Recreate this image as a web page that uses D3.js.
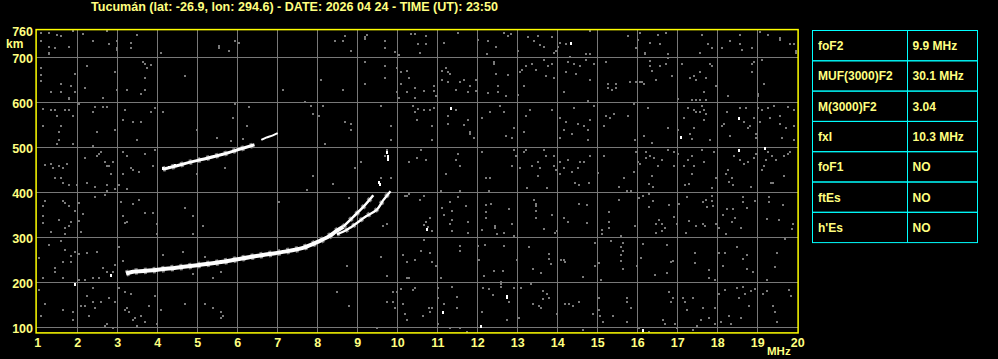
<!DOCTYPE html>
<html>
<head>
<meta charset="utf-8">
<script src="https://cdn.jsdelivr.net/npm/d3@7"></script>
<style>
  html, body { margin: 0; padding: 0; background: #000; }
  svg { display: block; }
  text { font-family: "Liberation Sans", Arial, sans-serif; font-weight: bold; fill: #ffff80; }
</style>
</head>
<body>
<div id="chart"></div>
<script>
// Data
const title = "Tucumán (lat: -26.9, lon: 294.6) - DATE: 2026 04 24 - TIME (UT): 23:50";
const freqTicks = [1, 2, 3, 4, 5, 6, 7, 8, 9, 10, 11, 12, 13, 14, 15, 16, 17, 18, 19, 20];
const heightTicks = [100, 200, 300, 400, 500, 600, 700, 760];
const paramNames = ["foF2", "MUF(3000)F2", "M(3000)F2", "fxI", "foF1", "ftEs", "h'Es"];
const paramValues = ["9.9 MHz", "30.1 MHz", "3.04", "10.3 MHz", "NO", "NO", "NO"];

// echo traces [MHz, km]
const traceF = [[3.22, 220], [3.39, 224], [3.89, 227], [4.47, 233], [5.05, 239], [5.64, 246], [6.14, 254],
  [6.64, 261], [7.14, 268], [7.64, 277], [8.05, 292], [8.30, 303], [8.47, 314], [8.65, 324]];
const traceO = [[8.65, 324], [8.9, 346], [9.15, 368], [9.4, 394]];
const traceX = [[8.49, 307], [8.72, 316], [8.86, 324], [9.22, 347], [9.49, 362], [9.65, 383], [9.83, 403]];
const trace2F = [[4.14, 452], [4.47, 459], [4.8, 467], [5.14, 474], [5.64, 485], [6.05, 496], [6.43, 506]];
const trace2Fweak = [[6.6, 517], [6.72, 522], [6.89, 527], [7.01, 532]];
const strongDots = [[9.555, 423], [9.57, 418], [9.78, 474], [9.76, 482], [9.74, 490], [14.34, 732], [11.34, 588],
  [17.09, 524], [18.54, 566], [18.54, 495], [19.19, 499], [10.74, 319], [11.14, 134], [12.09, 104], [12.74, 171],
  [12.74, 167], [16.14, 94], [1.94, 196], [2.84, 217], [4.13, 454], [4.3, 457], [4.45, 461]];

const noise = [
  [1.09,754],[1.29,754],[1.49,750],[1.59,747],[1.89,759],[2.14,753],[2.74,759],[3.49,750],[1.09,736],[1.29,724],
  [1.44,720],[1.79,724],[1.29,707],[1.29,711],[2.39,736],[2.79,729],[2.99,736],[2.99,717],[2.99,721],[3.34,732],[3.34,720],
  [4.09,710],[5.54,722],[5.54,726],[5.79,714],[5.94,736],[6.04,732],[8.44,736],[8.64,736],[8.69,747],[8.84,714],
  [9.19,745],[9.19,741],[9.24,750],[9.69,736],[9.69,722],[9.94,713],[10.04,705],[10.34,753],[10.44,753],
  [1.09,676],[1.09,661],[1.09,647],[3.64,690],[3.69,686],[3.84,684],[3.74,677],[2.24,681],[2.94,668],[1.94,664],
  [1.59,641],[1.84,637],[1.34,624],[1.59,624],[1.94,624],[2.19,633],[1.79,607],[1.79,611],[2.64,610],[2.99,628],
  [3.24,628],[3.59,618],[3.69,628],[3.69,655],[4.69,659],[7.14,628],[8.09,650],[8.64,628],[9.19,690],[9.19,641],
  [9.69,681],[9.69,655],[9.99,677],[10.09,668],[10.24,671],[10.29,655],[10.09,641],[10.24,624],[9.99,624],
  [10.44,633],[10.44,610],[10.04,610],[2.04,597],
  [1.14,585],[1.34,584],[1.44,584],[1.69,584],[1.79,584],[1.49,570],[1.89,569],[2.44,591],[2.64,591],[2.74,591],
  [3.19,584],[3.94,588],[4.14,579],[2.39,579],[1.14,548],[1.59,548],[1.54,535],[1.54,517],[1.49,508],[1.89,508],
  [2.49,535],[2.94,539],[3.14,561],[3.39,557],[3.59,557],[3.49,517],[3.84,579],[4.99,539],[5.94,596],[6.29,591],
  [5.89,566],[6.24,548],[5.49,521],[5.84,514],[6.14,518],[7.69,601],[7.84,593],[7.89,575],[8.04,570],[8.14,593],
  [8.69,557],[8.84,553],[8.84,539],[9.59,593],[9.84,548],[9.84,517],[10.44,579],[10.39,593],[10.49,561],[8.19,508],
  [1.19,461],[1.34,464],[1.39,455],[1.54,459],[1.64,455],[1.74,464],[1.44,433],[1.59,433],[2.19,477],[2.39,504],
  [2.49,481],[2.54,486],[2.59,490],[2.69,468],[2.74,458],[2.79,459],[2.89,468],[2.84,441],[3.14,490],[3.24,481],
  [3.34,455],[3.39,450],[3.54,446],[3.69,486],[3.89,459],[3.94,495],[3.14,441],[4.99,441],[5.69,455],[7.89,437],
  [8.94,455],[9.09,468],[9.59,433],[9.69,481],[9.74,495],[9.84,433],[10.29,468],[10.49,477],
  [10.71,747],[10.51,730],[10.56,711],[10.71,730],[11.16,733],[11.51,754],[12.01,739],[12.26,736],[12.46,724],
  [12.24,707],[12.66,754],[12.84,753],[12.76,748],[13.01,714],[13.26,745],[13.41,736],[13.51,747],[13.56,727],
  [13.66,724],[13.86,745],[13.91,711],[13.96,714],[14.06,733],[14.01,724],[14.82,759],[14.71,707],[14.82,707],
  [14.31,702],[14.21,729],[15.76,747],[15.96,720],[16.01,738],[16.06,754],[16.19,707],[16.19,711],[16.31,733],
  [16.51,751],[16.56,729],[16.71,754],[16.76,707],[17.56,710],[17.61,751],[17.76,729],[17.86,720],[18.11,720],
  [18.31,736],[18.56,751],[18.56,729],[18.61,717],[18.86,720],[19.06,756],[19.26,751],[19.56,739],[19.56,743],
  [19.81,729],[19.91,729],[19.96,711],[19.96,715],
  [10.66,625],[10.91,625],[10.91,637],[10.96,615],[11.11,671],[11.11,650],[11.21,676],[11.26,668],[11.31,664],
  [11.26,646],[11.46,628],[11.56,646],[11.66,650],[11.76,624],[11.81,637],[11.96,625],[11.96,650],[12.26,622],
  [12.41,686],[12.41,690],[12.46,664],[12.51,637],[12.51,624],[12.71,615],[12.76,661],[13.01,616],[13.06,667],
  [13.11,673],[13.16,637],[13.21,681],[13.36,686],[13.46,673],[13.66,695],[13.71,659],[13.76,681],[13.86,686],
  [13.91,655],[14.16,624],[14.21,668],[14.26,689],[14.41,686],[14.46,664],[14.56,681],[14.71,695],[14.77,604],
  [14.82,650],[14.91,686],[15.21,690],[15.26,641],[15.26,633],[15.36,627],[15.46,633],[15.46,641],[15.81,646],
  [15.96,646],[16.06,646],[16.11,646],[16.16,641],[16.31,692],[16.31,681],[16.36,670],[16.46,650],[16.56,681],
  [16.71,686],[16.76,698],[16.86,659],[17.01,607],[17.11,686],[17.31,655],[17.41,659],[17.46,650],[17.56,668],
  [17.66,624],[17.71,655],[17.81,686],[17.86,681],[17.96,637],[17.36,606],[17.46,606],[17.56,606],[17.71,606],
  [18.26,615],[18.86,686],[18.91,690],[18.86,668],[19.11,695],[19.16,641],[19.01,615],[19.01,619],
  [10.51,585],[10.66,584],[10.81,584],[10.92,588],[10.86,548],[10.86,517],[11.26,570],[11.26,553],[11.46,584],
  [11.66,550],[11.76,561],[11.81,530],[11.81,534],[11.91,521],[12.11,566],[12.31,579],[12.56,593],[12.67,579],
  [12.71,526],[12.86,521],[12.91,544],[13.16,535],[13.21,570],[13.31,584],[13.86,584],[14.06,566],[14.16,539],
  [14.06,521],[14.21,557],[14.36,530],[14.41,588],[14.51,553],[14.66,548],[14.76,539],[14.81,561],[14.76,517],
  [14.91,593],[15.21,570],[15.16,548],[15.41,575],[15.31,566],[15.76,570],[15.91,597],[15.94,517],[16.26,588],
  [16.16,526],[16.36,511],[16.76,544],[17.01,539],[17.16,566],[17.26,588],[17.31,530],[17.36,518],[17.41,584],
  [17.46,579],[17.56,579],[17.61,593],[17.66,584],[17.71,575],[17.66,561],[17.41,544],[17.81,517],[18.11,548],
  [18.16,553],[18.24,579],[18.31,526],[18.56,588],[18.66,557],[18.71,588],[18.81,548],[18.76,544],[18.91,566],
  [19.01,588],[18.96,530],[18.96,521],[19.06,556],[19.11,584],[19.26,588],[19.31,566],[19.41,593],[19.56,570],
  [19.56,553],[19.61,521],[19.71,544],[19.76,591],[19.91,584],[19.91,548],[19.91,517],
  [10.59,495],[10.71,473],[11.21,441],[11.46,473],[11.56,459],[11.51,486],[12.11,490],[12.21,433],[12.31,433],
  [12.86,459],[12.91,495],[12.96,481],[13.06,455],[13.16,490],[13.21,495],[13.36,459],[13.51,437],[13.56,455],
  [13.51,468],[13.66,495],[13.71,481],[13.91,481],[13.91,459],[13.96,450],[14.06,468],[14.06,441],[14.16,455],
  [14.26,473],[14.36,446],[14.51,455],[14.56,468],[14.66,468],[14.81,481],[15.01,444],[15.16,481],[15.66,433],
  [15.91,446],[15.96,490],[16.01,468],[16.06,464],[16.21,490],[16.21,477],[16.41,477],[16.31,481],[16.36,437],
  [16.51,459],[16.61,473],[16.76,495],[16.91,459],[16.91,490],[17.01,486],[17.16,459],[17.26,473],[17.36,481],
  [17.36,441],[17.41,459],[17.61,495],[17.66,468],[17.91,490],[17.96,433],[18.21,441],[18.26,450],[18.36,433],
  [18.41,481],[18.56,473],[18.66,464],[18.76,468],[18.91,477],[18.96,486],[19.11,450],[19.16,459],[19.26,490],
  [19.21,473],[19.36,481],[19.46,473],[19.66,437],[19.76,486],[19.81,490],[19.66,481],
  [1.64,421],[1.79,417],[1.99,417],[2.24,421],[2.44,412],[2.74,417],[2.94,408],[3.04,417],[3.24,408],[8.39,420],
  [10.19,392],[10.29,396],[1.14,369],[1.19,380],[1.64,381],[1.69,377],[1.79,371],[1.94,360],[2.04,377],[1.84,335],
  [1.79,325],[1.69,322],[1.54,338],[1.14,347],[1.14,332],[1.34,313],[1.69,307],[2.04,337],[2.09,313],[2.14,352],
  [2.44,389],[2.69,395],[2.74,403],[3.09,378],[3.14,347],[3.19,332],[3.24,335],[3.39,375],[3.54,383],[3.69,354],
  [3.89,354],[3.99,329],[3.99,307],[4.69,365],[4.89,347],[4.89,307],[5.14,325],[7.04,378],[7.74,405],[8.79,387],
  [9.64,325],[9.74,329],[10.24,392],
  [1.29,283],[1.59,292],[1.69,273],[1.84,246],[1.84,258],[1.94,268],[2.04,264],[2.24,266],[2.49,267],[2.64,233],
  [2.89,223],[3.04,279],[3.14,248],[2.94,239],[2.74,224],[2.54,211],[2.39,211],[1.64,245],[1.64,211],[1.44,233],
  [1.44,224],[1.14,211],[1.04,255],[2.04,206],[2.19,205],[4.14,261],[4.64,267],[5.19,257],[4.89,220],[5.39,209],
  [5.59,224],[8.74,236],[9.59,257],[9.74,215],[10.14,261],[10.24,245],[10.44,249],[10.24,211],
  [1.04,184],[1.19,153],[1.09,126],[1.64,140],[1.89,135],[1.89,117],[2.09,148],[2.19,148],[2.24,171],[2.29,126],
  [2.39,157],[2.44,144],[2.39,188],[2.59,157],[2.69,104],[2.74,108],[2.79,166],[2.94,157],[2.89,100],[3.04,188],
  [3.19,180],[3.19,140],[3.24,144],[3.29,135],[3.39,117],[3.44,122],[3.49,104],[3.34,175],[3.59,126],[3.69,113],
  [3.79,148],[3.94,171],[3.99,108],[4.09,140],[4.69,153],[5.19,153],[5.39,144],[5.59,135],[5.64,126],[5.59,122],
  [8.49,180],[8.79,148],[9.74,157],[9.89,180],[9.89,157],[9.94,144],[9.99,180],[10.09,185],[10.14,153],[10.19,131],
  [10.24,117],[10.39,184],[10.44,188],[10.29,211],[9.49,100],
  [11.09,403],[11.57,403],[12.29,403],[13.24,409],[13.74,409],[14.44,421],[14.54,417],[14.79,421],[15.54,412],
  [15.74,403],[15.84,403],[16.29,420],[16.39,412],[17.19,417],[17.29,420],[17.86,409],[18.29,424],[18.39,417],
  [18.84,412],[19.34,421],[19.39,421],
  [10.56,383],[10.66,393],[10.81,343],[10.71,335],[10.66,328],[10.76,323],[10.86,314],[11.11,366],[11.16,349],
  [11.31,378],[11.36,360],[11.36,340],[11.31,329],[11.36,314],[11.51,389],[11.71,369],[11.76,309],[11.76,335],
  [12.11,317],[12.21,372],[12.21,356],[12.21,344],[12.34,375],[12.44,322],[12.44,326],[12.49,307],[12.66,309],
  [12.79,363],[12.86,331],[12.91,304],[13.41,383],[13.46,375],[13.46,371],[13.46,359],[13.46,344],[13.66,320],
  [13.86,349],[13.94,310],[13.99,314],[14.16,343],[14.26,334],[14.54,375],[14.74,372],[14.74,332],[15.11,317],
  [15.11,307],[15.29,357],[15.29,335],[15.29,322],[15.54,384],[15.59,304],[15.94,326],[16.04,387],[16.14,392],
  [16.29,396],[16.29,368],[16.39,380],[16.46,329],[16.54,340],[16.61,331],[16.69,322],[16.79,372],[16.46,310],
  [16.61,314],[16.91,346],[17.04,375],[17.24,390],[17.29,337],[17.46,326],[17.64,378],[17.71,383],[17.74,368],
  [17.86,392],[17.86,380],[17.89,369],[17.64,331],[17.69,326],[17.96,331],[18.04,322],[18.14,349],[18.24,363],
  [18.36,335],[18.39,363],[18.44,344],[18.59,322],[18.64,390],[18.64,378],[18.74,366],[18.94,381],[19.24,341],
  [19.29,378],[19.29,390],[19.54,338],[19.64,372],[19.89,331],[19.86,319],[18.21,307],[17.21,311],[16.99,331],
  [10.66,294],[10.59,270],[10.81,266],[10.86,246],[10.96,237],[11.09,211],[11.56,282],[11.56,270],[12.02,282],
  [12.04,251],[12.16,215],[12.19,283],[12.41,226],[12.67,282],[12.64,226],[12.99,251],[13.29,279],[13.39,230],
  [13.59,221],[13.79,264],[13.79,252],[13.84,242],[14.16,251],[14.09,251],[14.19,245],[14.64,212],[14.94,288],
  [14.94,237],[15.04,243],[15.09,205],[15.34,292],[15.59,279],[15.64,269],[15.59,261],[15.64,288],[15.59,248],
  [15.64,230],[15.99,237],[16.09,255],[16.14,286],[16.44,217],[16.74,283],[16.74,221],[16.84,246],[16.89,248],
  [17.44,266],[17.44,243],[17.79,228],[17.79,211],[17.94,206],[18.04,266],[18.14,237],[18.19,266],[18.49,279],
  [18.64,252],[18.74,261],[18.74,230],[18.89,224],[19.24,205],[19.44,234],[19.49,266],[19.69,297],
  [10.79,144],[10.86,144],[10.64,126],[10.81,135],[11.01,165],[11.01,188],[11.01,108],[11.16,153],[11.31,100],
  [11.36,190],[11.49,168],[11.49,144],[11.56,100],[11.74,91],[12.11,135],[12.14,188],[12.29,185],[12.39,172],
  [12.59,202],[12.59,197],[12.59,191],[12.74,117],[12.79,157],[12.91,188],[13.04,122],[13.09,187],[13.34,196],
  [13.39,153],[13.54,148],[13.59,144],[13.64,181],[13.74,175],[13.64,163],[13.79,165],[13.99,131],[14.19,153],
  [14.29,153],[14.39,148],[14.54,157],[14.64,95],[14.89,131],[15.04,166],[15.04,140],[15.07,126],[15.14,113],
  [15.39,126],[15.74,166],[15.74,157],[15.74,113],[15.84,144],[16.04,100],[16.29,91],[16.64,117],[16.69,108],
  [16.79,180],[16.84,157],[16.89,166],[16.94,108],[16.99,100],[17.14,166],[17.19,157],[17.24,140],[17.39,165],
  [17.39,95],[17.49,104],[17.59,117],[17.64,144],[17.79,122],[17.94,144],[17.94,108],[18.04,175],[18.09,113],
  [18.19,184],[18.29,126],[18.34,108],[18.49,188],[18.54,166],[18.59,122],[18.64,191],[18.69,175],[18.79,148],
  [18.84,181],[18.94,185],[19.24,181],[19.39,148],[19.44,135],[19.49,113],[19.79,184],[19.84,171],[19.14,175]
];

// Layout
const w = 998, h = 359;
const plot = { f0: 0.97, f1: 20.02, h0: 88, h1: 762 };

// Scales
const xScale = d3.scaleLinear().domain([1, 20]).range([37.3, 797.3]);
const yScale = d3.scaleLinear().domain([100, 760]).range([327.5, 30.5]);
const px = v => Math.floor(v) + 0.5;

const svg = d3.select("#chart").append("svg")
  .attr("width", w)
  .attr("height", h);

svg.append("rect").attr("width", w).attr("height", h).attr("fill", "#000");

// Title
svg.append("text")
  .attr("x", 91)
  .attr("y", 11)
  .attr("textLength", 407)
  .attr("lengthAdjust", "spacingAndGlyphs")
  .style("font-size", "12px")
  .text(title);

// Grid
const grid = svg.append("g").attr("stroke", "#787878").attr("stroke-width", 1).attr("shape-rendering", "crispEdges");
grid.selectAll(".vg")
  .data(freqTicks.filter(d => d > 1 && d < 20))
  .enter().append("line")
  .attr("x1", d => px(xScale(d))).attr("x2", d => px(xScale(d)))
  .attr("y1", yScale(plot.h1)).attr("y2", yScale(plot.h0));
grid.selectAll(".hg")
  .data(heightTicks.filter(d => d < 760))
  .enter().append("line")
  .attr("y1", d => px(yScale(d))).attr("y2", d => px(yScale(d)))
  .attr("x1", xScale(plot.f0)).attr("x2", xScale(plot.f1));

// Noise speckle
svg.append("g").attr("fill", "#7a7a7a").attr("shape-rendering", "crispEdges")
  .selectAll("rect")
  .data(noise)
  .enter().append("rect")
  .attr("x", d => Math.round(xScale(d[0])) - 1)
  .attr("y", d => Math.round(yScale(d[1])) - 1)
  .attr("width", 2)
  .attr("height", 2);

// Echo traces
const line = d3.line()
  .x(d => xScale(d[0]))
  .y(d => yScale(d[1]))
  .curve(d3.curveCatmullRom);

const traces = [
  { data: traceF, width: 4.0 },
  { data: traceO, width: 2.6 },
  { data: traceX, width: 2.4 },
  { data: trace2F, width: 3.0 },
  { data: trace2Fweak, width: 2.0 }
];
// grey fringe round the echoes
svg.append("g").selectAll("path")
  .data(traces.slice(0, 4))
  .enter().append("path")
  .attr("d", d => line(d.data))
  .attr("fill", "none")
  .attr("stroke", "#7a7a7a")
  .attr("stroke-width", d => d.width + 2.5)
  .attr("stroke-dasharray", "3 6");
svg.append("g").selectAll("path")
  .data(traces)
  .enter().append("path")
  .attr("d", d => line(d.data))
  .attr("fill", "none")
  .attr("stroke", "#fff")
  .attr("stroke-width", d => d.width);

svg.append("g").attr("fill", "#fff").attr("shape-rendering", "crispEdges")
  .selectAll("rect")
  .data(strongDots)
  .enter().append("rect")
  .attr("x", d => Math.round(xScale(d[0])) - 1)
  .attr("y", d => Math.round(yScale(d[1])) - 1)
  .attr("width", 2)
  .attr("height", 3);

// Frame
svg.append("rect")
  .attr("x", xScale(plot.f0))
  .attr("y", yScale(plot.h1))
  .attr("width", xScale(plot.f1) - xScale(plot.f0))
  .attr("height", yScale(plot.h0) - yScale(plot.h1))
  .attr("fill", "none")
  .attr("stroke", "#ffff00")
  .attr("stroke-width", 1.5);

// Axes
const yAxis = d3.axisLeft(yScale).tickValues(heightTicks).tickSize(0).tickPadding(0);
const gy = svg.append("g").attr("transform", "translate(33,0)").call(yAxis);
const xAxis = d3.axisBottom(xScale).tickValues(freqTicks).tickSize(0).tickPadding(0);
const gx = svg.append("g").attr("transform", "translate(0,338)").call(xAxis);
[gy, gx].forEach(g => {
  g.select(".domain").remove();
  g.selectAll("text")
    .style("font-size", "12.5px")
    .style("font-family", '"Liberation Sans", Arial, sans-serif')
    .attr("fill", "#ffff80");
});
gy.selectAll("text").attr("dy", "0.36em");
gx.selectAll("text").attr("dy", "0.71em");

svg.append("text").attr("x", 6).attr("y", 48).style("font-size", "12px").text("km");
svg.append("text").attr("x", 767).attr("y", 355).style("font-size", "11.5px").text("MHz");

// Parameter table
const tbl = { x: 812.5, y: 30.5, w: 165, rowH: 30.3, col: 95 };
const rows = svg.append("g").selectAll("g")
  .data(paramNames)
  .enter().append("g")
  .attr("transform", (d, i) => `translate(${tbl.x},${tbl.y + i * tbl.rowH})`);
rows.append("rect")
  .attr("width", tbl.w).attr("height", tbl.rowH)
  .attr("fill", "none").attr("stroke", "#00ffff").attr("stroke-width", 1);
rows.append("line")
  .attr("x1", tbl.col).attr("x2", tbl.col).attr("y1", 0).attr("y2", tbl.rowH)
  .attr("stroke", "#00ffff");
rows.append("text")
  .attr("x", 5.5).attr("y", 19.5)
  .style("font-size", "12px")
  .text(d => d);
rows.append("text")
  .attr("x", tbl.col + 5).attr("y", 19.5)
  .style("font-size", "12px")
  .text((d, i) => paramValues[i]);
</script>
</body>
</html>
